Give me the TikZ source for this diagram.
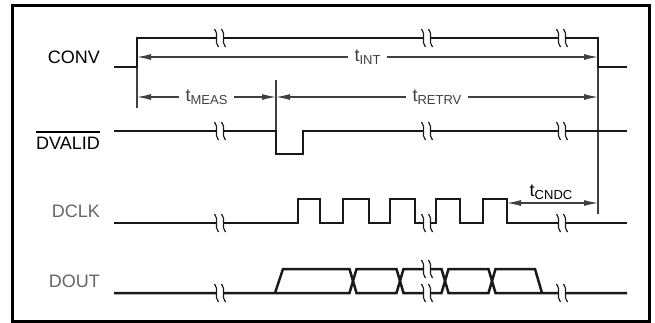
\documentclass[tikz,border=0pt]{standalone}
\usepackage{fontspec}
\setmainfont{Liberation Sans}
\usetikzlibrary{arrows.meta}
\newcommand{\tlab}[1]{t\raisebox{-3pt}{\fontsize{13}{13}\selectfont #1}}

\begin{document}
\begin{tikzpicture}
	[x=1pt,y=-1pt,
	sig/.style={line width=2.5pt,black!90,line join=miter},
	dim/.style={line width=1.1pt,black!75},
	dimarr/.style={dim,{Latex[length=14pt,width=6pt]}-{Latex[length=14pt,width=6pt]}},
	sname/.style={anchor=east,inner sep=0pt,font=\fontsize{18}{18}\selectfont},
	tname/.style={fill=white,inner xsep=7pt,inner ysep=1pt,font=\fontsize{18}{18}\selectfont},
	brk/.pic={
		\fill[white] (-3.6,-2) rectangle (3.6,2);
		\draw[line width=1.2pt,black!90] (-5.5,-9) .. controls (-0.5,-4) and (-6.5,4) .. (-1.5,9);
		\draw[line width=1.2pt,black!90] (1.5,-9) .. controls (6.5,-4) and (0.5,4) .. (5.5,9);}]
	\useasboundingbox (0,0) rectangle (655,322);
	\fill[white] (0,0) rectangle (655,322);
	\draw[line width=3pt] (12.5,5.5) rectangle (649,321.5);
	% edges and rows
	\coordinate (ta) at (137,38);
	\coordinate (tb) at (276,131);
	\coordinate (tc) at (598,38);
	\coordinate (td) at (507,223);
	\coordinate (rint) at (0,57);
	\coordinate (rmeas) at (0,97);
	\coordinate (rcndc) at (0,203);
	% signal names
	\node[sname] (conv) at (100,57.5) {CONV};
	\node[sname] (dvalid) at (100,143) {DVALID};
	\draw[line width=1.8pt] ([yshift=4.5pt]dvalid.north west) -- ([yshift=4.5pt]dvalid.north east);
	\node[sname,black!60] (dclk) at (100,211.5) {DCLK};
	\node[sname,black!60] (dout) at (100,281.5) {DOUT};
	% extension lines
	\draw[dim] (ta |- 0,67) -- (ta |- 0,108);
	\draw[dim] (tb |- 0,80) -- (tb);
	\draw[dim] (tc |- 0,67) -- (tc |- 0,214);
	% waveforms
	\draw[sig] (114,67) -- (ta |- 0,67) -- (ta) -- (tc) -- (tc |- 0,67) -- (627,67);
	\draw[sig] (114,131) -- (tb) -- (276,154) -- (303,154) -- (303,131) -- (627,131);
	\draw[sig] (114,223) \foreach \r/\f in {298/320,343/369,390/415,436/460,483/507}
		{ -- (\r,223) -- (\r,199) -- (\f,199) -- (\f,223) } -- (627,223);
	\draw[sig] (114,293) -- (349.5,293) -- (356.5,269) -- (396.5,269) -- (403.5,293) -- (441.5,293)
		-- (448.5,269) -- (488.5,269) -- (495.5,293) -- (627,293);
	\draw[sig] (275,293) -- (283,269) -- (349.5,269) -- (356.5,293) -- (396.5,293) -- (403.5,269)
		-- (441.5,269) -- (448.5,293) -- (488.5,293) -- (495.5,269) -- (535,269) -- (542,293);
	% breaks
	\foreach \y in {38,131,223,293}
		\foreach \x in {220,562}
			\pic at (\x,\y) {brk};
	\foreach \y in {38,131,223,269,293}
		\pic at (427,\y) {brk};
	% timing arrows
	\draw[dimarr] (ta |- rint) -- node[tname] (tint) {\tlab{INT}} (tc |- rint);
	\draw[dimarr] (ta |- rmeas) -- node[tname] (tmeas) {\tlab{MEAS}} (tb |- rmeas);
	\draw[dimarr] (tb |- rmeas) -- node[tname] (tretrv) {\tlab{RETRV}} (tc |- rmeas);
	\draw[dimarr] (td |- rcndc) -- (tc |- rcndc);
	\node[anchor=base,inner sep=0pt,font=\fontsize{18}{18}\selectfont] (tcndc) at (551,196) {\tlab{CNDC}};
\end{tikzpicture}
\end{document}
